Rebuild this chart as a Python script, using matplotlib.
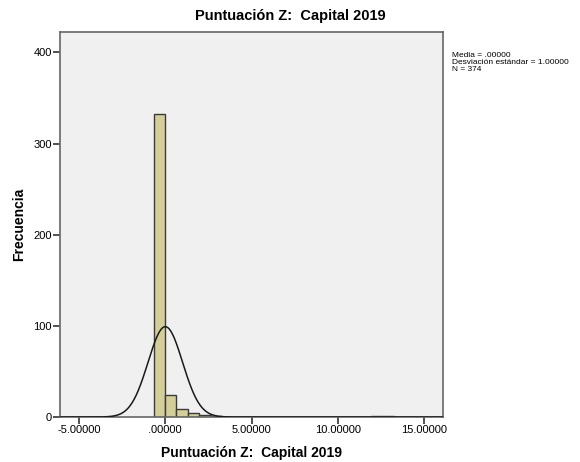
import numpy as np
import matplotlib
matplotlib.use("Agg")
import matplotlib.pyplot as plt

plt.rcParams['font.family'] = ['Liberation Sans', 'DejaVu Sans']

# histogram of z scores (SPSS style)
bin_start = -0.68
bin_width = 0.664
counts = [332, 24, 9, 4, 2, 1, 0, 0, 0, 0, 0, 0, 0, 0, 0, 0, 0, 0, 0, 1, 1]
n_total = 374
mean = 0.0
sd = 1.0
x_ticks = [-5, 0, 5, 10, 15]
x_ticklabels = ["-5.00000", ".00000", "5.00000", "10.00000", "15.00000"]
y_ticks = [0, 100, 200, 300, 400]
title = "Puntuación Z:  Capital 2019"
legend_lines = ["Media = .00000", "Desviación estándar = 1.00000", "N = 374"]

fig = plt.figure(figsize=(5.8, 4.62), dpi=100)
ax = fig.add_axes([0.1034, 0.0974, 0.6609, 0.8327])
ax.set_facecolor("#f0f0f0")

edges = bin_start + bin_width * np.arange(len(counts) + 1)
ax.bar(edges[:-1], counts, width=bin_width, align="edge",
       color="#d4cf98", edgecolor="#3a3a3a", linewidth=1.0, zorder=2)

xs = np.linspace(-6.1, 16.1, 800)
ys = n_total * bin_width * np.exp(-0.5 * ((xs - mean) / sd) ** 2) / (sd * np.sqrt(2 * np.pi))
ax.plot(xs, ys, color="#1a1a1a", linewidth=1.1, zorder=3)

ax.set_xlim(-6.1, 16.1)
ax.set_ylim(0, 422)
ax.set_xticks(x_ticks)
ax.set_xticklabels(x_ticklabels)
ax.set_yticks(y_ticks)
ax.tick_params(axis="both", direction="out", length=5, width=1.2, color="#333333",
               labelsize=8, pad=1)
for s in ax.spines.values():
    s.set_color("#666666")
    s.set_linewidth(1.2)

fig.text(0.5, 0.965, title, ha="center", va="center", fontsize=10.5, fontweight="bold")
ax.set_xlabel(title, fontsize=10, fontweight="bold", labelpad=8)
ax.set_ylabel("Frecuencia", fontsize=10, fontweight="bold", labelpad=5)

fig.text(0.779, 0.887, "\n".join(legend_lines), ha="left", va="top",
         fontsize=6, linespacing=0.95)

fig.savefig("out.png", dpi=100, facecolor="white")
